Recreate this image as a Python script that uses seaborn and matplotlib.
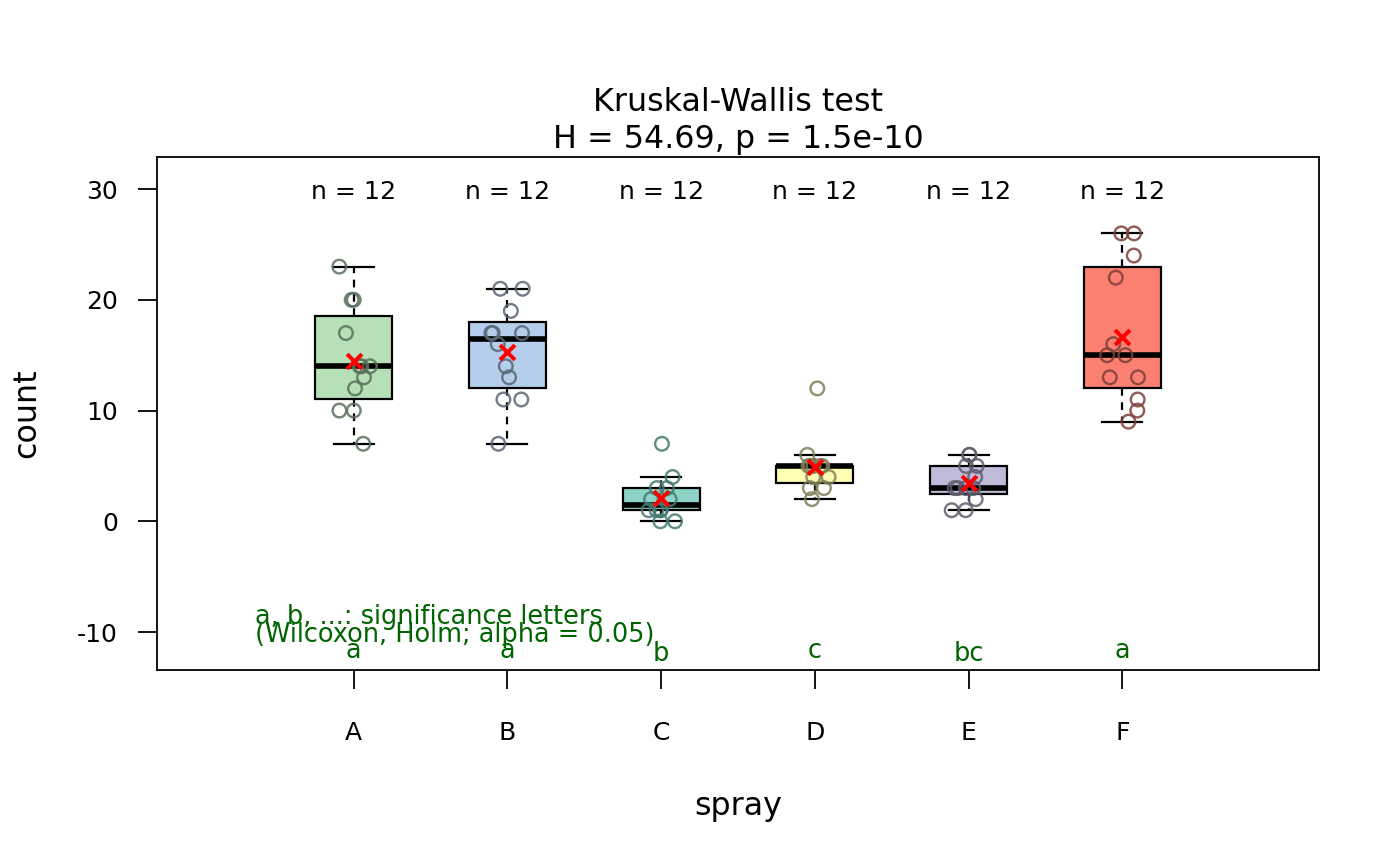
import numpy as np
import pandas as pd
import matplotlib
matplotlib.use("Agg")
import matplotlib.pyplot as plt
import seaborn as sns

# ---------------- data ----------------
sprays = ["A", "B", "C", "D", "E", "F"]
count_A = [10, 7, 20, 14, 14, 12, 10, 23, 17, 20, 14, 13]
count_B = [11, 17, 21, 11, 16, 14, 17, 17, 19, 21, 7, 13]
count_C = [0, 1, 7, 2, 3, 1, 2, 1, 3, 0, 1, 4]
count_D = [3, 5, 12, 6, 4, 3, 5, 5, 5, 5, 2, 4]
count_E = [3, 5, 3, 5, 3, 6, 1, 1, 3, 2, 6, 4]
count_F = [11, 9, 15, 22, 15, 16, 13, 10, 26, 26, 24, 13]
sig_letters = ["a", "a", "b", "c", "bc", "a"]
box_colors = ["#B6E0B8", "#B4CEEC", "#8DD3C7", "#FFFFB3", "#BEBADA", "#FB8072"]
point_colors = ["#5B705C", "#5A6776", "#467A73", "#80805A", "#5F5D6D", "#7D4039"]
title_line1 = "Kruskal-Wallis test"
title_line2 = "H = 54.69, p = 1.5e-10"
legend_line1 = "a, b, ...: significance letters"
legend_line2 = "(Wilcoxon, Holm; alpha = 0.05)"
x_label = "spray"
y_label = "count"
y_ticks = [-10, 0, 10, 20, 30]

groups = [count_A, count_B, count_C, count_D, count_E, count_F]
df = pd.DataFrame({
    "spray": np.repeat(sprays, [len(g) for g in groups]),
    "count": np.concatenate(groups),
})


def fivenum(v):
    v = np.sort(np.asarray(v, dtype=float))
    n = len(v)
    n4 = np.floor((n + 3) / 2) / 2
    d = np.array([1, n4, (n + 1) / 2, n + 1 - n4, n]) - 1
    return 0.5 * (v[np.floor(d).astype(int)] + v[np.ceil(d).astype(int)])


# ---------------- figure ----------------
DPI = 144
fig = plt.figure(figsize=(1400 / DPI, 866 / DPI), dpi=DPI)
plt.rcParams["font.family"] = ["DejaVu Sans"]
ax = fig.add_axes([157 / 1400, 1 - 670 / 866, (1319 - 157) / 1400, (670 - 157) / 866])

# boxes (Tukey hinges, like R)
stats = []
for g in groups:
    mn, q1, med, q3, mx = fivenum(g)
    iqr = q3 - q1
    arr = np.asarray(g)
    lo = arr[arr >= q1 - 1.5 * iqr].min()
    hi = arr[arr <= q3 + 1.5 * iqr].max()
    stats.append(dict(med=med, q1=q1, q3=q3, whislo=lo, whishi=hi, fliers=[]))

positions = np.arange(len(sprays))
bp = ax.bxp(
    stats, positions=positions, widths=0.5, capwidths=0.26, patch_artist=True,
    showfliers=False,
    boxprops=dict(edgecolor="black", linewidth=1.1),
    medianprops=dict(color="black", linewidth=2.8, solid_capstyle="butt"),
    whiskerprops=dict(color="black", linewidth=1.1, linestyle=(0, (3.5, 3))),
    capprops=dict(color="black", linewidth=1.1),
    zorder=1,
)
for patch, c in zip(bp["boxes"], box_colors):
    patch.set_facecolor(c)

# jittered points
np.random.seed(7)
n_before = len(ax.collections)
sns.stripplot(
    data=df, x="spray", y="count", hue="spray", order=sprays, hue_order=sprays,
    palette=dict(zip(sprays, point_colors)), jitter=0.11, size=6.8,
    linewidth=1.2, legend=False, ax=ax, zorder=3, native_scale=False,
)
for coll in ax.collections[n_before:]:
    fc = coll.get_facecolor()
    coll.set_edgecolor(fc)
    coll.set_facecolor("none")
    coll.set_alpha(0.85)

# means
means = [np.mean(g) for g in groups]
ax.scatter(positions, means, marker="x", color="red", s=55, linewidths=2.0, zorder=4)

# limits and ticks
ax.set_xlim(-1.28, 6.28)
ax.set_ylim(-13.43, 32.9)
ax.set_xticks(positions)
ax.set_xticklabels(sprays)
ax.set_yticks(y_ticks)
ax.set_yticklabels([str(t) for t in y_ticks])
ax.tick_params(axis="x", length=9.5, width=0.9, pad=16, labelsize=12.5, direction="out")
ax.tick_params(axis="y", length=9.5, width=0.9, pad=10, labelsize=12.5, direction="out")
for s in ax.spines.values():
    s.set_linewidth(0.9)
    s.set_color("black")
ax.grid(False)

# labels
ax.set_xlabel(x_label, fontsize=15.9)
ax.set_ylabel(y_label, fontsize=15.9)
ax.xaxis.label.set_va("baseline")
ax.yaxis.label.set_va("baseline")
ax.xaxis.set_label_coords(0.5, (670 - 815) / 513)
ax.yaxis.set_label_coords((35 - 157) / 1162, 0.5)

# title (two lines)
ax.text(0.5, 1 + (157 - 111) / 513, title_line1, transform=ax.transAxes,
        ha="center", va="baseline", fontsize=15.9)
ax.text(0.5, 1 + (157 - 148) / 513, title_line2, transform=ax.transAxes,
        ha="center", va="baseline", fontsize=15.9)

# n labels
for p, g in zip(positions, groups):
    ax.text(p, 29.09, f"n = {len(g)}", ha="center", va="baseline", fontsize=12.6)

# significance letters
for p, lab in zip(positions, sig_letters):
    yb = -12.35 if ("b" not in lab) else -12.6
    ax.text(p, yb, lab, ha="center", va="baseline", fontsize=12.8, color="#006400")

ax.text(-0.643, -9.28, legend_line1, ha="left", va="baseline", fontsize=12.8, color="#006400")
ax.text(-0.643, -10.88, legend_line2, ha="left", va="baseline", fontsize=12.8, color="#006400")

fig.savefig("out.png", dpi=DPI)
